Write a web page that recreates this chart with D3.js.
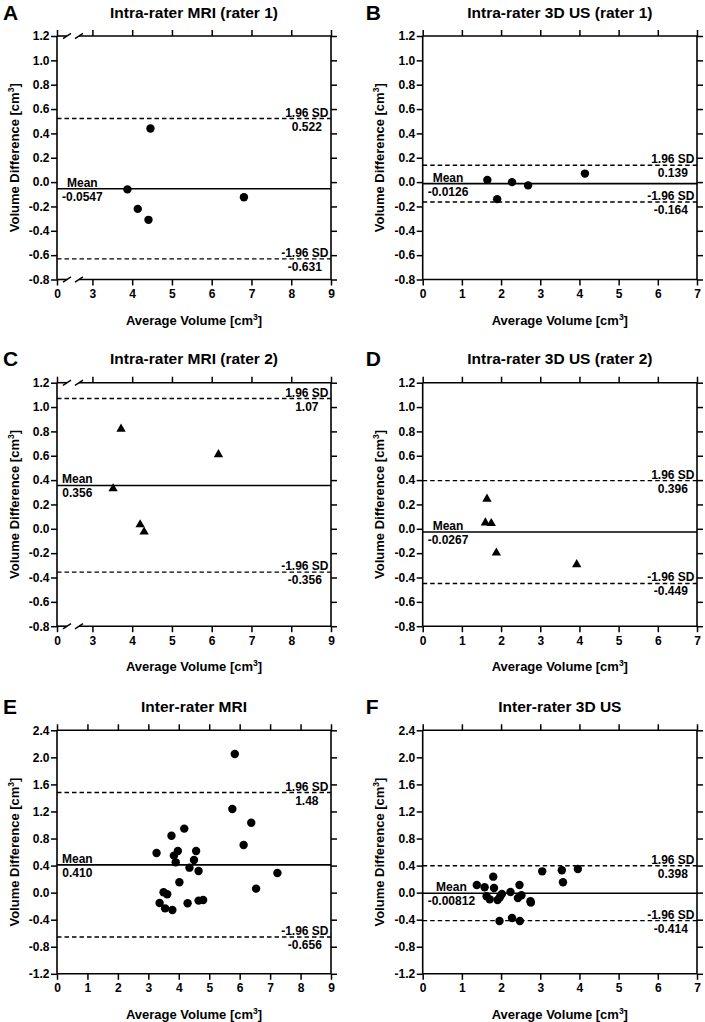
<!DOCTYPE html>
<html><head><meta charset="utf-8">
<script src="https://cdn.jsdelivr.net/npm/d3@7"></script>
<style>
body{margin:0;background:#fff}
svg{display:block}
text{font-family:"Liberation Sans",Arial,sans-serif;font-weight:bold;fill:#000}
</style>
</head><body>
<svg id="chart" width="705" height="1022"></svg>
<script>
// ---------------- data ----------------
const panelLetters = ["A","B","C","D","E","F"];
const panelTitles = ["Intra-rater MRI (rater 1)","Intra-rater 3D US (rater 1)","Intra-rater MRI (rater 2)","Intra-rater 3D US (rater 2)","Inter-rater MRI","Inter-rater 3D US"];

const intraMriR1Avg  = [3.88, 4.14, 4.41, 4.46, 6.81];
const intraMriR1Diff = [-0.06, -0.22, -0.31, 0.44, -0.125];
const intraUsR1Avg   = [1.65, 1.90, 2.28, 2.69, 4.14];
const intraUsR1Diff  = [0.018, -0.14, 0.0, -0.027, 0.07];
const intraMriR2Avg  = [3.52, 3.72, 4.20, 4.30, 6.17];
const intraMriR2Diff = [0.33, 0.82, 0.035, -0.025, 0.61];
const intraUsR2Avg   = [1.64, 1.60, 1.75, 1.88, 3.93];
const intraUsR2Diff  = [0.245, 0.05, 0.045, -0.197, -0.293];
const interMriAvg  = [3.27, 3.76, 4.18, 3.84, 3.97, 3.90, 4.57, 4.50, 4.35, 4.65, 4.02, 3.50, 3.62, 3.37, 3.55, 3.79, 4.29, 4.65, 4.80, 5.84, 5.76, 6.38, 6.13, 7.24, 6.54];
const interMriDiff = [0.586, 0.842, 0.946, 0.547, 0.616, 0.448, 0.616, 0.483, 0.369, 0.32, 0.153, 0.005, -0.025, -0.153, -0.232, -0.256, -0.158, -0.118, -0.108, 2.05, 1.236, 1.034, 0.704, 0.29, 0.059];
const interUsAvg  = [1.38, 1.58, 1.80, 1.82, 1.63, 1.71, 1.91, 1.97, 2.02, 2.24, 2.47, 2.43, 2.52, 2.75, 2.76, 1.96, 2.28, 2.48, 3.05, 3.55, 3.58, 3.96];
const interUsDiff = [0.113, 0.079, 0.236, 0.069, -0.054, -0.099, -0.108, -0.069, -0.02, 0.01, 0.113, -0.079, -0.039, -0.128, -0.148, -0.419, -0.374, -0.419, 0.315, 0.33, 0.153, 0.35];

const meanDiff = [-0.0547, -0.0126, 0.356, -0.0267, 0.410, -0.00812];
const upperLoA = [0.522, 0.139, 1.07, 0.396, 1.48, 0.398];
const lowerLoA = [-0.631, -0.164, -0.356, -0.449, -0.656, -0.414];
const meanText  = ["-0.0547","-0.0126","0.356","-0.0267","0.410","-0.00812"];
const upperText = ["0.522","0.139","1.07","0.396","1.48","0.398"];
const lowerText = ["-0.631","-0.164","-0.356","-0.449","-0.656","-0.414"];

const yTicksSmall = [-0.8,-0.6,-0.4,-0.2,0,0.2,0.4,0.6,0.8,1.0,1.2];
const yTicksLarge = [-1.2,-0.8,-0.4,0,0.4,0.8,1.2,1.6,2.0,2.4];
const xTicksMriBroken = [0,3,4,5,6,7,8,9];
const xTicksMri = [0,1,2,3,4,5,6,7,8,9];
const xTicksUs = [0,1,2,3,4,5,6,7];

const panelX = [intraMriR1Avg, intraUsR1Avg, intraMriR2Avg, intraUsR2Avg, interMriAvg, interUsAvg];
const panelY = [intraMriR1Diff, intraUsR1Diff, intraMriR2Diff, intraUsR2Diff, interMriDiff, interUsDiff];
const markerShape = ["circle","circle","triangle","triangle","circle","circle"];

// ---------------- layout ----------------
const colLeft = [57, 422.7], colRight = [331, 697];
const rowTop = [36, 382.7, 730.3], plotH = 243.5;

const svg = d3.select("#chart");
svg.append("rect").attr("width",705).attr("height",1022).attr("fill","#fff");

const FONT_TICK = 12, FONT_ANN = 12, FONT_AX = 13, FONT_TITLE = 15.5, FONT_LET = 21;

function fmt(d){ return (Math.abs(d) < 1e-9 ? 0 : d).toFixed(1); }

for (let i = 0; i < 6; i++) {
  const row = Math.floor(i/2), col = i % 2;
  const xl = colLeft[col], xr = colRight[col];
  const yt = rowTop[row], yb = yt + plotH;
  const broken = (col === 0 && row < 2);

  let x, xTicks;
  if (broken) { x = d3.scaleLinear().domain([0, 0.25, 2.65, 9]).range([xl, xl+10.5, xl+21.5, xr]); xTicks = xTicksMriBroken; }
  else if (col === 0) { x = d3.scaleLinear().domain([0, 9]).range([xl, xr]); xTicks = xTicksMri; }
  else { x = d3.scaleLinear().domain([0, 7]).range([xl, xr]); xTicks = xTicksUs; }
  const yDom = row < 2 ? [-0.8, 1.2] : [-1.2, 2.4];
  const yTicks = row < 2 ? yTicksSmall : yTicksLarge;
  const y = d3.scaleLinear().domain(yDom).range([yb, yt]);

  const g = svg.append("g");

  const axB = g.append("g").attr("transform",`translate(0,${yb})`)
    .call(d3.axisBottom(x).tickValues(xTicks).tickSize(6).tickPadding(4).tickFormat(d3.format("d")));
  const axT = g.append("g").attr("transform",`translate(0,${yt})`)
    .call(d3.axisTop(x).tickValues(xTicks).tickSize(6).tickFormat(""));
  const axL = g.append("g").attr("transform",`translate(${xl},0)`)
    .call(d3.axisLeft(y).tickValues(yTicks).tickSize(6).tickPadding(1.5).tickFormat(fmt));
  const axR = g.append("g").attr("transform",`translate(${xr},0)`)
    .call(d3.axisRight(y).tickValues(yTicks).tickSize(6).tickFormat(""));
  [axB, axT, axL, axR].forEach(a => {
    a.select(".domain").remove();
    a.attr("font-size", FONT_TICK).attr("font-family", null);
    a.selectAll(".tick line").attr("stroke","#000").attr("stroke-width",1.5);
    a.selectAll(".tick text").attr("fill","#000");
  });

  const lw = 1.6;
  g.append("line").attr("x1",xl).attr("x2",xl).attr("y1",yt).attr("y2",yb).attr("stroke","#000").attr("stroke-width",lw);
  g.append("line").attr("x1",xr).attr("x2",xr).attr("y1",yt).attr("y2",yb).attr("stroke","#000").attr("stroke-width",lw);
  [yt, yb].forEach(yy => {
    if (broken) {
      const b1 = x(0.25) - 0.5, b2 = x(2.65) + 0.5;
      g.append("line").attr("x1",xl).attr("x2",b1).attr("y1",yy).attr("y2",yy).attr("stroke","#000").attr("stroke-width",lw);
      g.append("line").attr("x1",b2).attr("x2",xr).attr("y1",yy).attr("y2",yy).attr("stroke","#000").attr("stroke-width",lw);
      [b1, b2].forEach(bx => {
        g.append("line").attr("x1",bx-4).attr("x2",bx+4).attr("y1",yy+2.6).attr("y2",yy-2.6).attr("stroke","#000").attr("stroke-width",1.4);
      });
    } else {
      g.append("line").attr("x1",xl).attr("x2",xr).attr("y1",yy).attr("y2",yy).attr("stroke","#000").attr("stroke-width",lw);
    }
  });

  g.append("line").attr("x1",xl).attr("x2",xr).attr("y1",y(meanDiff[i])).attr("y2",y(meanDiff[i]))
    .attr("stroke","#000").attr("stroke-width",1.6);
  [upperLoA[i], lowerLoA[i]].forEach(v => {
    g.append("line").attr("x1",xl).attr("x2",xr).attr("y1",y(v)).attr("y2",y(v))
      .attr("stroke","#000").attr("stroke-width",1.4).attr("stroke-dasharray","4.5,3");
  });

  function pair(topStr, botStr, yy, anchorX, side) {
    const t1 = g.append("text").attr("font-size",FONT_ANN).attr("text-anchor","middle").attr("y",yy-2).text(topStr);
    const t2 = g.append("text").attr("font-size",FONT_ANN).attr("text-anchor","middle").attr("y",yy+12).text(botStr);
    const w = Math.max(t1.node().getComputedTextLength(), t2.node().getComputedTextLength());
    const cx = side === "left" ? anchorX + w/2 : anchorX - w/2;
    t1.attr("x",cx); t2.attr("x",cx);
  }
  pair("Mean", meanText[i], y(meanDiff[i]), xl + 5, "left");
  pair("1.96 SD", upperText[i], y(upperLoA[i]), xr - 2.5, "right");
  pair("-1.96 SD", lowerText[i], y(lowerLoA[i]), xr - 2.5, "right");

  const pts = panelX[i].map((v, k) => [v, panelY[i][k]]);
  if (markerShape[i] === "circle") {
    g.selectAll("circle.pt").data(pts).join("circle").attr("class","pt")
      .attr("cx", d => x(d[0])).attr("cy", d => y(d[1])).attr("r", 4.2).attr("fill","#000");
  } else {
    const tri = d3.symbol().type(d3.symbolTriangle).size(38);
    g.selectAll("path.pt").data(pts).join("path").attr("class","pt")
      .attr("d", tri).attr("transform", d => `translate(${x(d[0])},${y(d[1])})`).attr("fill","#000");
  }

  const cx = (xl + xr) / 2;
  g.append("text").attr("x",cx).attr("y",yt-18.5).attr("text-anchor","middle").attr("font-size",FONT_TITLE).text(panelTitles[i]);
  g.append("text").attr("x",xl - (col === 0 ? 54 : 57)).attr("y",yt-16.5).attr("font-size",FONT_LET).text(panelLetters[i]);

  const xlab = g.append("text").attr("x",cx).attr("y",yb+45).attr("text-anchor","middle").attr("font-size",FONT_AX);
  xlab.append("tspan").text("Average Volume [cm");
  xlab.append("tspan").attr("dy",-5).attr("font-size",8.5).text("3");
  xlab.append("tspan").attr("dy",5).text("]");

  const ylab = g.append("text").attr("transform",`translate(${xl-38.5},${(yt+yb)/2}) rotate(-90)`)
    .attr("text-anchor","middle").attr("font-size",FONT_AX);
  ylab.append("tspan").text("Volume Difference [cm");
  ylab.append("tspan").attr("dy",-5).attr("font-size",8.5).text("3");
  ylab.append("tspan").attr("dy",5).text("]");
}
</script>
</body></html>
